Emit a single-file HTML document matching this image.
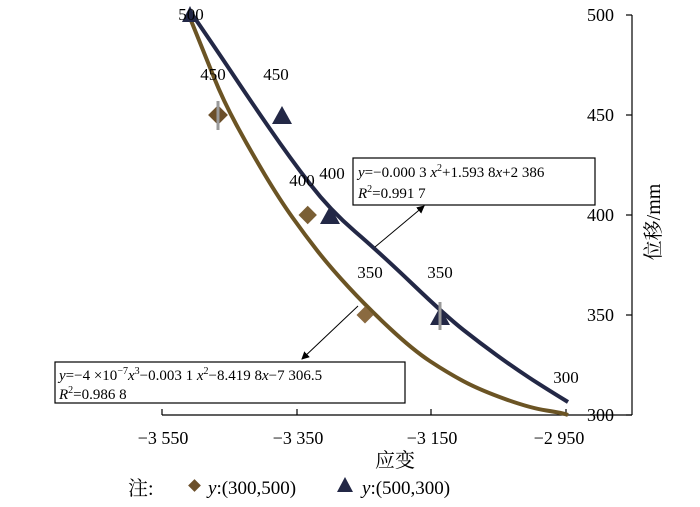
<!DOCTYPE html>
<html><head><meta charset="utf-8"><style>
body{margin:0;background:#fff}
svg text{font-family:"Liberation Serif","Noto Serif CJK SC",serif}
</style></head><body>
<svg width="700" height="502" viewBox="0 0 700 502" xmlns="http://www.w3.org/2000/svg">
<defs><marker id="ar" markerWidth="8" markerHeight="8" refX="7" refY="4" orient="auto"><path d="M0,0 L8,4 L0,8 Z" fill="#000"/></marker></defs>
<line x1="162" y1="415" x2="632" y2="415" stroke="#000" stroke-width="1.2"/>
<line x1="632" y1="15" x2="632" y2="415" stroke="#000" stroke-width="1.2"/>
<g stroke="#000" stroke-width="1.2">
<line x1="162" y1="409" x2="162" y2="415"/><line x1="297" y1="409" x2="297" y2="415"/><line x1="431" y1="409" x2="431" y2="415"/><line x1="566" y1="409" x2="566" y2="415"/>
<line x1="626" y1="15" x2="632" y2="15"/><line x1="626" y1="115" x2="632" y2="115"/><line x1="626" y1="215" x2="632" y2="215"/><line x1="626" y1="315" x2="632" y2="315"/><line x1="626" y1="415" x2="632" y2="415"/>
</g>
<g font-size="18" text-anchor="middle">
<text x="163" y="444">−3 550</text><text x="298" y="444">−3 350</text><text x="432" y="444">−3 150</text><text x="559" y="444">−2 950</text>
</g>
<g font-size="18" text-anchor="end">
<text x="614" y="21">500</text><text x="614" y="121">450</text><text x="614" y="221">400</text><text x="614" y="321">350</text><text x="614" y="421">300</text>
</g>
<text x="0" y="0" font-size="20" transform="translate(660,222) rotate(-90)" text-anchor="middle">位移/mm</text>
<text x="395" y="467" font-size="20" text-anchor="middle">应变</text>
<path d="M190,18 L197.5,36.5 Q205,55 214,77.5 Q223,100 236.5,125 Q250,150 265,175 Q280,200 292.5,217.5 Q305,235 317.5,251 Q330,267 348.5,287 Q367,307 390,328.5 Q413,350 430.5,361.5 Q448,373 464,381.5 Q480,390 505,399 Q530,408 546.5,410.5 Q563,413 568,415" fill="none" stroke="#6b5424" stroke-width="4"/>
<path d="M192,14 L206,34.5 Q220,55 235,77.5 Q250,100 270,129 Q290,158 310,184 Q330,210 355,231.5 Q380,253 413.5,285 Q447,317 463.5,330 Q480,343 496.5,355 Q513,367 529,377.5 Q545,388 568,402" fill="none" stroke="#232846" stroke-width="4"/>
<g fill="#6b4f2a">
<rect x="211" y="108" width="14" height="14" transform="rotate(45 218 115)"/>
<rect x="301" y="208" width="13" height="13" transform="rotate(45 307 215)" fill="#7a5f35"/>
<rect x="359" y="309" width="12" height="12" transform="rotate(45 365 315)" fill="#8a6a40"/>
</g>
<g fill="#232846">
<polygon points="282,106 292,124 272,124"/>
<polygon points="330,206 340,224 320,224"/>
<polygon points="440,307 450,325 430,325"/>
<polygon points="190,6 198,22 182,22"/>
</g>
<g stroke="#999" stroke-width="3"><line x1="218" y1="101" x2="218" y2="130"/><line x1="440" y1="302" x2="440" y2="330"/></g>
<g font-size="17" text-anchor="middle">
<text x="191" y="20">500</text><text x="213" y="80">450</text><text x="276" y="80">450</text><text x="302" y="186">400</text><text x="332" y="179">400</text><text x="370" y="278">350</text><text x="440" y="278">350</text><text x="566" y="383">300</text>
</g>
<rect x="353" y="158" width="242" height="47" fill="#fff" stroke="#000" stroke-width="1.2"/>
<text x="358" y="177" font-size="15" font-style="italic">y<tspan font-style="normal">=−0.000 3 </tspan>x<tspan font-size="10" dy="-6" font-style="normal">2</tspan><tspan dy="6" font-style="normal">+1.593 8</tspan>x<tspan font-style="normal">+2 386</tspan></text>
<text x="358" y="198" font-size="15" font-style="italic">R<tspan font-size="10" dy="-6" font-style="normal">2</tspan><tspan dy="6" font-style="normal">=0.991 7</tspan></text>
<line x1="375" y1="247" x2="424" y2="206" stroke="#000" stroke-width="1" marker-end="url(#ar)"/>
<rect x="55" y="362" width="350" height="41" fill="#fff" stroke="#000" stroke-width="1.2"/>
<text x="59" y="380" font-size="15" font-style="italic">y<tspan font-style="normal">=−4 ×10</tspan><tspan font-size="10" dy="-6" font-style="normal">−7</tspan><tspan dy="6">x</tspan><tspan font-size="10" dy="-6" font-style="normal">3</tspan><tspan dy="6" font-style="normal">−0.003 1 </tspan>x<tspan font-size="10" dy="-6" font-style="normal">2</tspan><tspan dy="6" font-style="normal">−8.419 8</tspan>x<tspan font-style="normal">−7 306.5</tspan></text>
<text x="59" y="399" font-size="15" font-style="italic">R<tspan font-size="10" dy="-6" font-style="normal">2</tspan><tspan dy="6" font-style="normal">=0.986 8</tspan></text>
<line x1="358" y1="306" x2="302" y2="359" stroke="#000" stroke-width="1" marker-end="url(#ar)"/>
<text x="128" y="495" font-size="20">注:</text>
<rect x="190" y="481" width="9" height="9" transform="rotate(45 194.5 485.5)" fill="#6b4f2a"/>
<text x="208" y="494" font-size="19"><tspan font-style="italic">y</tspan>:(300,500)</text>
<polygon points="345,477 353,492 337,492" fill="#232846"/>
<text x="362" y="494" font-size="19"><tspan font-style="italic">y</tspan>:(500,300)</text>
</svg>
</body></html>
